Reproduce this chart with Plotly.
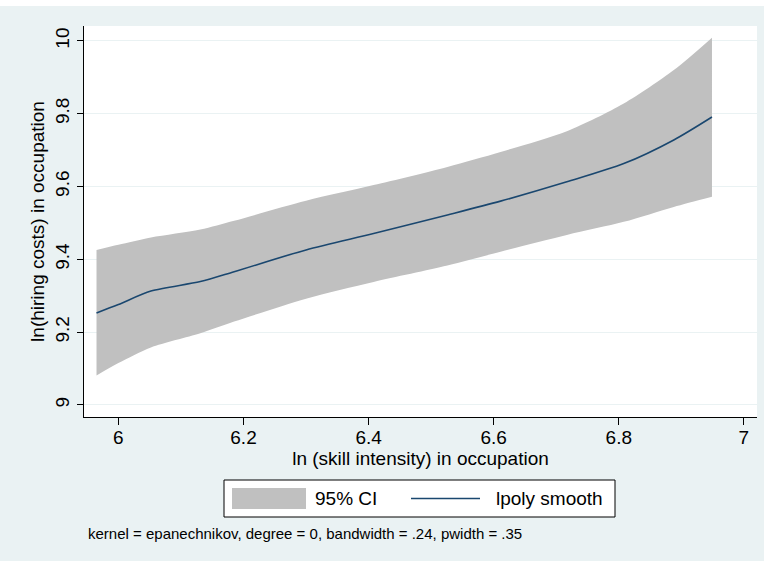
import plotly.graph_objects as go

# ---- data ----
skill = [5.965, 6.000, 6.052, 6.131, 6.185, 6.300, 6.408, 6.526, 6.611, 6.717, 6.808, 6.888, 6.949]
smooth = [9.253, 9.276, 9.313, 9.339, 9.366, 9.426, 9.471, 9.522, 9.560, 9.613, 9.663, 9.728, 9.791]
ci_low = [9.081, 9.115, 9.158, 9.197, 9.229, 9.292, 9.338, 9.383, 9.421, 9.467, 9.503, 9.544, 9.572]
ci_high = [9.426, 9.440, 9.460, 9.482, 9.506, 9.561, 9.604, 9.654, 9.695, 9.752, 9.828, 9.920, 10.009]

x_ticks = [6, 6.2, 6.4, 6.6, 6.8, 7]
x_tick_text = ["6", "6.2", "6.4", "6.6", "6.8", "7"]
y_ticks = [9, 9.2, 9.4, 9.6, 9.8, 10]
y_tick_text = ["9", "9.2", "9.4", "9.6", "9.8", "10"]

x_title = "ln (skill intensity) in occupation"
y_title = "ln(hiring costs) in occupation"
legend_labels = ["95% CI", "lpoly smooth"]
note = "kernel = epanechnikov, degree = 0, bandwidth = .24, pwidth = .35"

BG = "#EAF2F3"
CI_COLOR = "#C0C0C0"
LINE_COLOR = "#1A476F"
FONT = "Arial, Liberation Sans, sans-serif"

fig = go.Figure()
fig.add_trace(go.Scatter(x=skill, y=ci_low, mode="lines",
                         line=dict(width=0, color=CI_COLOR, shape="spline", smoothing=0.8),
                         showlegend=False, hoverinfo="skip"))
fig.add_trace(go.Scatter(x=skill, y=ci_high, mode="lines",
                         line=dict(width=0, color=CI_COLOR, shape="spline", smoothing=0.8),
                         fill="tonexty", fillcolor=CI_COLOR, name=legend_labels[0], showlegend=False))
fig.add_trace(go.Scatter(x=skill, y=smooth, mode="lines",
                         line=dict(width=1.6, color=LINE_COLOR, shape="spline", smoothing=0.8),
                         name=legend_labels[1], showlegend=False))

L, R, T, B = 84, 7, 26, 144
W, H = 764, 561
pw, ph = W - L - R, H - T - B


def px(xp):
    return (xp - L) / pw


def py(yp):
    return (H - B - yp) / ph


shapes = [
    # white strip at very top
    dict(type="rect", xref="paper", yref="paper", x0=px(0), x1=px(W), y0=py(6), y1=py(0),
         fillcolor="white", line=dict(width=0), layer="above"),
    # legend box
    dict(type="rect", xref="paper", yref="paper", x0=px(224), x1=px(615), y0=py(517), y1=py(480),
         fillcolor="white", line=dict(color="black", width=1)),
    # CI swatch
    dict(type="rect", xref="paper", yref="paper", x0=px(232), x1=px(306), y0=py(509), y1=py(488),
         fillcolor=CI_COLOR, line=dict(width=0)),
    # line swatch
    dict(type="line", xref="paper", yref="paper", x0=px(411), x1=px(480), y0=py(498.5), y1=py(498.5),
         line=dict(color=LINE_COLOR, width=1.6)),
]

annotations = [
    dict(text=legend_labels[0], xref="paper", yref="paper", x=px(313), y=py(498.5),
         xanchor="left", yanchor="middle", showarrow=False, font=dict(family=FONT, size=19, color="black")),
    dict(text=legend_labels[1], xref="paper", yref="paper", x=px(494), y=py(498.5),
         xanchor="left", yanchor="middle", showarrow=False, font=dict(family=FONT, size=19, color="black")),
    dict(text=note, xref="paper", yref="paper", x=px(86), y=py(533),
         xanchor="left", yanchor="middle", showarrow=False, font=dict(family=FONT, size=15, color="black")),
]

fig.update_layout(
    width=W, height=H,
    margin=dict(l=L, r=R, t=T, b=B, pad=0),
    paper_bgcolor=BG, plot_bgcolor="white",
    font=dict(family=FONT, size=19, color="black"),
    showlegend=False,
    shapes=shapes, annotations=annotations,
    xaxis=dict(range=[5.945, 7.021], tickmode="array", tickvals=x_ticks, ticktext=x_tick_text,
               showgrid=False, zeroline=False, showline=True, linecolor="black", linewidth=1,
               ticks="outside", ticklen=7, tickcolor="black", tickfont=dict(size=19),
               ticklabelstandoff=-4,
               title=dict(text=x_title, font=dict(size=19), standoff=2), automargin=False),
    yaxis=dict(range=[8.967, 10.041], tickmode="array", tickvals=y_ticks, ticktext=y_tick_text,
               showgrid=True, gridcolor=BG, gridwidth=1, zeroline=False,
               showline=True, linecolor="black", linewidth=1,
               ticks="outside", ticklen=6, tickcolor="black", tickangle=-90, tickfont=dict(size=19),
               title=dict(text=y_title, font=dict(size=19), standoff=2), automargin=False),
)

fig.write_html("out.html", config={"displayModeBar": False},
               post_script="document.body.style.margin='0';")
